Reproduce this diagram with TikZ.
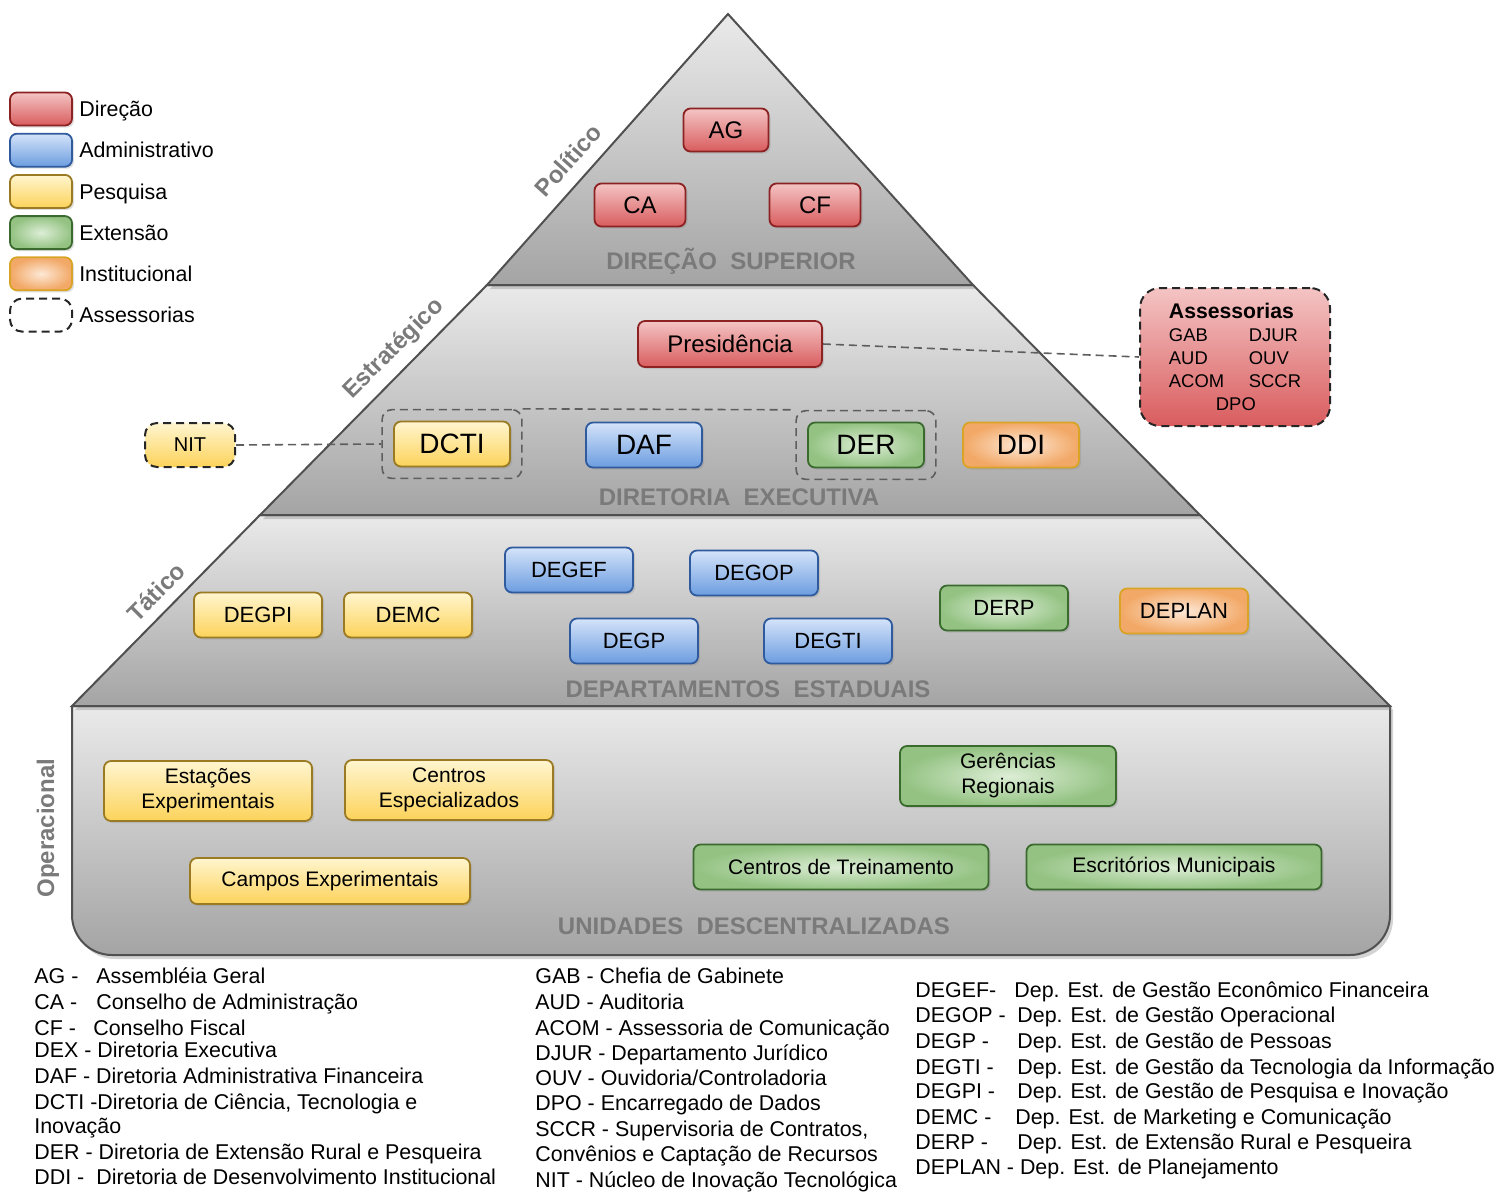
\documentclass[tikz,border=0pt]{standalone}
\usepackage{fontspec}
\setmainfont{Liberation Sans}
\usetikzlibrary{positioning,fit,shadows}
\definecolor{dirtop}{HTML}{F4C4C4}
\definecolor{dirbot}{HTML}{D95C5E}
\definecolor{dirline}{HTML}{8C2222}
\definecolor{admtop}{HTML}{D4E3F9}
\definecolor{admbot}{HTML}{6C9DE0}
\definecolor{admline}{HTML}{2F5B9E}
\definecolor{pestop}{HTML}{FFF5CF}
\definecolor{pesbot}{HTML}{FCD35A}
\definecolor{pesline}{HTML}{9A7A22}
\definecolor{extin}{HTML}{DDEED6}
\definecolor{extout}{HTML}{93C282}
\definecolor{extline}{HTML}{3B6A2F}
\definecolor{instin}{HTML}{FDE8D6}
\definecolor{instout}{HTML}{F2A866}
\definecolor{instline}{HTML}{D9A425}
\definecolor{tiertop}{HTML}{EAEAEA}
\definecolor{tierbot}{HTML}{A4A4A4}
\definecolor{tierline}{HTML}{505050}
\definecolor{bandgrey}{HTML}{7A7A7A}
\definecolor{groupgrey}{HTML}{5E5E5E}
\tikzstyle{box}=[draw, rounded corners=3.5pt, line width=0.9pt, inner sep=1pt, align=center,
  minimum height=22.5pt, font=\fontsize{11}{13}\selectfont,
  drop shadow={opacity=0.25, shadow xshift=1pt, shadow yshift=-1pt}]
\tikzstyle{dir}=[box, top color=dirtop, bottom color=dirbot, draw=dirline]
\tikzstyle{adm}=[box, top color=admtop, bottom color=admbot, draw=admline]
\tikzstyle{pes}=[box, top color=pestop, bottom color=pesbot, draw=pesline]
\tikzstyle{ext}=[box, inner color=extin, outer color=extout, draw=extline]
\tikzstyle{inst}=[box, inner color=instin, outer color=instout, draw=instline]
\tikzstyle{asbox}=[draw=black!85, line width=1pt, dash pattern=on 4pt off 2.5pt, rounded corners=6pt]
\tikzstyle{tier}=[draw=tierline, line width=1pt, top color=tiertop, bottom color=tierbot,
  drop shadow={opacity=0.35, shadow xshift=1.5pt, shadow yshift=-2pt}]
\tikzstyle{band}=[text=bandgrey, font=\bfseries\fontsize{12}{14}\selectfont]
\tikzstyle{level}=[text=bandgrey, font=\bfseries\fontsize{12}{14}\selectfont]
\tikzstyle{group}=[draw=groupgrey, dash pattern=on 4pt off 2.5pt, line width=0.8pt, rounded corners=5pt, inner sep=5.5pt]
\tikzstyle{link}=[draw=groupgrey, dash pattern=on 4pt off 2.5pt, line width=0.8pt]
\tikzstyle{key}=[minimum width=31pt, minimum height=16.5pt, inner sep=0pt]
\tikzstyle{gloss}=[anchor=west, inner sep=0pt, text height=9.6pt, text depth=2pt, font=\fontsize{10.7}{13}\selectfont]
\newcommand{\abbr}[2]{\makebox[#1][l]{#2}}

\begin{document}
\begin{tikzpicture}[x=0.5pt, y=-0.5pt, node distance=3.2pt]
    \useasboundingbox (0,0) rectangle (1499,1191);

    % pyramid, from the base up so each shadow falls on the tier below
    \path[tier] (72,706) -- (1390,706) -- (1390,830) [rounded corners=20pt] -- (1390,955) -- (72,955) -- (72,830) [sharp corners] -- cycle;
    \path[tier] (260,515) -- (1200,515) -- (1390,706) -- (72,706) -- cycle;
    \path[tier] (487,285) -- (973,285) -- (1200,515) -- (260,515) -- cycle;
    \path[tier] (728,14) -- (973,285) -- (487,285) -- cycle;

    \node[level, rotate=48] (lpol) at (568,160) {Político};
    \node[level, rotate=45] (lest) at (394,349) {Estratégico};
    \node[level, rotate=45] (ltat) at (156,592) {Tático};
    \node[level, rotate=90] (lope) at (48,828) {Operacional};

    \node[band] (tsup) at (731,261) {DIREÇÃO\ \ SUPERIOR};
    \node[band] (texe) at (739,497) {DIRETORIA\ \ EXECUTIVA};
    \node[band] (test) at (748,689) {DEPARTAMENTOS\ \ ESTADUAIS};
    \node[band] (tuni) at (754,926) {UNIDADES\ \ DESCENTRALIZADAS};

    % direcao superior
    \node[dir, minimum width=42.5pt, minimum height=21.5pt, font=\fontsize{12}{14}\selectfont] (ag) at (726,130) {AG};
    \node[dir, minimum width=45.5pt, minimum height=21.5pt, font=\fontsize{12}{14}\selectfont] (ca) at (640,205) {CA};
    \node[dir, minimum width=45.5pt, minimum height=21.5pt, font=\fontsize{12}{14}\selectfont] (cf) at (815,205) {CF};

    % diretoria executiva
    \node[dir, minimum width=92pt, minimum height=23pt, font=\fontsize{12}{14}\selectfont] (pres) at (730,344) {Presidência};
    \node[pes, minimum width=58pt, font=\fontsize{14}{16}\selectfont] (dcti) at (452,444) {DCTI};
    \node[adm, minimum width=58pt, font=\fontsize{14}{16}\selectfont] (daf) at (644,445) {DAF};
    \node[ext, minimum width=58pt, font=\fontsize{14}{16}\selectfont] (der) at (866,445) {DER};
    \node[inst, minimum width=58pt, font=\fontsize{14}{16}\selectfont] (ddi) at (1021,445) {DDI};
    \node[group, fit=(dcti)] (dctig) {};
    \node[group, fit=(der)] (derg) {};
    \draw[link] (dctig.north east) -- (derg.north west);

    \node[asbox, top color=pestop, bottom color=pesbot, minimum width=45pt, minimum height=22pt,
      font=\fontsize{10}{12}\selectfont] (nit) at (190,445) {NIT};
    \draw[link] (nit.east) -- (dctig.west);

    \node[asbox, rounded corners=10pt, top color=dirtop, bottom color=dirbot, minimum width=95pt, minimum height=69pt,
      align=left, inner sep=0pt, font=\fontsize{9.2}{11.5}\selectfont] (asses) at (1235,357)
      {{\bfseries\fontsize{10.6}{11.5}\selectfont Assessorias}\\
       \abbr{40pt}{GAB}DJUR\\ \abbr{40pt}{AUD}OUV\\ \abbr{40pt}{ACOM}SCCR\\ \hspace*{23.5pt}DPO};
    \draw[link] (pres.east) -- (asses.west);

    % departamentos estaduais
    \node[pes, minimum width=64pt] (degpi) at (258,615) {DEGPI};
    \node[pes, minimum width=64pt] (demc) at (408,615) {DEMC};
    \node[adm, minimum width=64pt] (degef) at (569,570) {DEGEF};
    \node[adm, minimum width=64pt] (degop) at (754,573) {DEGOP};
    \node[adm, minimum width=64pt] (degp) at (634,641) {DEGP};
    \node[adm, minimum width=64pt] (degti) at (828,641) {DEGTI};
    \node[ext, minimum width=64pt] (derp) at (1004,608) {DERP};
    \node[inst, minimum width=64pt] (deplan) at (1184,611) {DEPLAN};

    % unidades descentralizadas
    \node[pes, minimum width=104pt, minimum height=30pt, font=\fontsize{10.5}{12.5}\selectfont] (estexp) at (208,791) {Estações\\Experimentais};
    \node[pes, minimum width=104pt, minimum height=30pt, font=\fontsize{10.5}{12.5}\selectfont] (cesp) at (449,790) {Centros\\Especializados};
    \node[pes, minimum width=140pt, minimum height=23pt, font=\fontsize{10.5}{12.5}\selectfont] (campos) at (330,881) {Campos Experimentais};
    \node[ext, minimum width=108pt, minimum height=30pt, font=\fontsize{10.5}{12.5}\selectfont] (ger) at (1008,776) {Gerências\\Regionais};
    \node[ext, minimum width=147.5pt, font=\fontsize{10.5}{12.5}\selectfont] (ctrein) at (841,867) {Centros de Treinamento};
    \node[ext, minimum width=147.5pt, font=\fontsize{10.5}{12.5}\selectfont] (escmun) at (1174,867) {Escritórios Municipais};

    % legenda
    \node[dir, key] (kdir) at (41,109) {};
    \node[adm, key, below=of kdir] (kadm) {};
    \node[pes, key, below=of kadm] (kpes) {};
    \node[ext, key, below=of kpes] (kext) {};
    \node[inst, key, below=of kext] (kinst) {};
    \node[asbox, key, below=of kinst] (kass) {};
    \foreach \k/\t in {kdir/Direção, kadm/Administrativo, kpes/Pesquisa, kext/Extensão, kinst/Institucional, kass/Assessorias}
      \node[gloss, right=3pt of \k] (t\k) {\t};

    % siglas
    \node[gloss] (sag) at (34,976) {\abbr{31pt}{AG -}Assembléia Geral};
    \node[gloss] (sca) at (34,1002) {\abbr{31pt}{CA -}Conselho de Administração};
    \node[gloss] (scf) at (34,1028) {\abbr{29.5pt}{CF -}Conselho Fiscal};
    \node[gloss] (sdex) at (34,1050) {DEX - Diretoria Executiva};
    \node[gloss] (sdaf) at (34,1076) {DAF - Diretoria Administrativa Financeira};
    \node[gloss] (sdcti) at (34,1102) {DCTI -Diretoria de Ciência, Tecnologia e};
    \node[gloss] (sdcti2) at (34,1126) {Inovação};
    \node[gloss] (sder) at (34,1152) {DER - Diretoria de Extensão Rural e Pesqueira};
    \node[gloss] (sddi) at (34,1177) {\abbr{31pt}{DDI -}Diretoria de Desenvolvimento Institucional};

    \node[gloss] (sgab) at (535,976) {GAB - Chefia de Gabinete};
    \node[gloss] (saud) at (535,1002) {AUD - Auditoria};
    \node[gloss] (sacom) at (535,1028) {ACOM - Assessoria de Comunicação};
    \node[gloss] (sdjur) at (535,1053) {DJUR - Departamento Jurídico};
    \node[gloss] (souv) at (535,1078) {OUV - Ouvidoria/Controladoria};
    \node[gloss] (sdpo) at (535,1103) {DPO - Encarregado de Dados};
    \node[gloss] (ssccr) at (535,1129) {SCCR - Supervisoria de Contratos,};
    \node[gloss] (ssccr2) at (535,1154) {Convênios e Captação de Recursos};
    \node[gloss] (snit) at (535,1180) {NIT - Núcleo de Inovação Tecnológica};

    \node[gloss] (sdegef) at (915,990) {\abbr{49.5pt}{DEGEF-}Dep. Est. de Gestão Econômico Financeira};
    \node[gloss] (sdegop) at (915,1015) {\abbr{51pt}{DEGOP -}Dep. Est. de Gestão Operacional};
    \node[gloss] (sdegp) at (915,1041) {\abbr{51pt}{DEGP -}Dep. Est. de Gestão de Pessoas};
    \node[gloss] (sdegti) at (915,1067) {\abbr{51pt}{DEGTI -}Dep. Est. de Gestão da Tecnologia da Informação};
    \node[gloss] (sdegpi) at (915,1091) {\abbr{51pt}{DEGPI -}Dep. Est. de Gestão de Pesquisa e Inovação};
    \node[gloss] (sdemc) at (915,1117) {\abbr{50pt}{DEMC -}Dep. Est. de Marketing e Comunicação};
    \node[gloss] (sderp) at (915,1142) {\abbr{51pt}{DERP -}Dep. Est. de Extensão Rural e Pesqueira};
    \node[gloss] (sdeplan) at (915,1167) {DEPLAN - Dep. Est. de Planejamento};
\end{tikzpicture}
\end{document}
